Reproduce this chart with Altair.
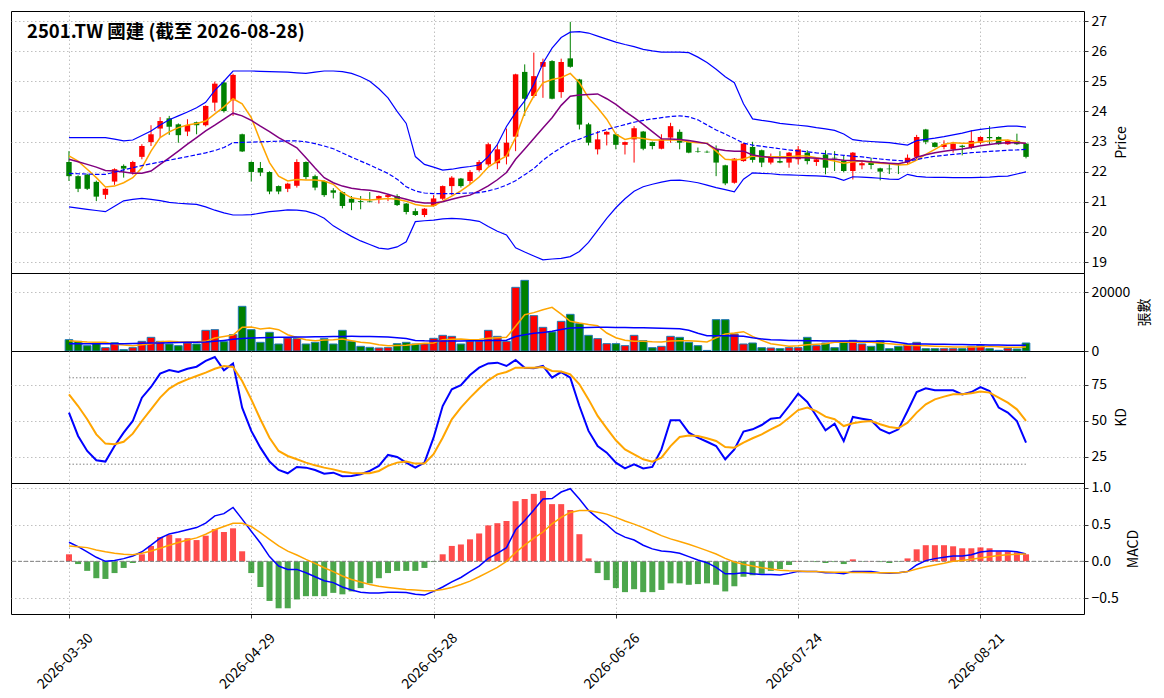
import altair as alt
import pandas as pd

FONT = "Noto Sans CJK TC"
title_text = "2501.TW 國建 (截至 2026-08-28)"
tick_pos = [0, 20, 40, 60, 80, 100]
tick_labels = ["2026-03-30", "2026-04-29", "2026-05-28", "2026-06-26", "2026-07-24", "2026-08-21"]

open_ = [22.32, 21.85, 21.90, 21.66, 21.23, 21.67, 22.19, 21.97, 22.49, 22.98,
         23.43, 23.77, 23.57, 23.33, 23.64, 23.54, 24.29, 24.96, 24.37, 23.24,
         22.32, 22.12, 21.99, 21.52, 21.43, 21.53, 22.32, 21.85, 21.69, 21.38,
         21.32, 21.10, 21.02, 21.01, 21.10, 21.16, 21.19, 20.94, 20.69, 20.56,
         20.86, 21.10, 21.52, 21.77, 21.69, 22.05, 22.24, 22.28, 22.50, 23.16,
         25.31, 24.51, 25.48, 25.67, 24.64, 25.76, 25.06, 23.57, 22.74, 23.23,
         23.24, 22.89, 23.07, 23.33, 22.98, 22.76, 23.13, 23.32, 22.98, 22.67,
         22.66, 22.74, 22.21, 21.63, 22.35, 22.82, 22.71, 22.30, 22.35, 22.30,
         22.41, 22.63, 22.32, 22.57, 22.46, 22.37, 22.02, 22.21, 22.30, 22.11,
         22.10, 22.24, 22.30, 22.49, 23.40, 22.96, 22.82, 22.74, 22.86, 22.79,
         22.96, 23.15, 23.15, 22.91, 23.02, 22.93]
high = [22.68, 21.88, 21.93, 21.70, 21.45, 22.11, 22.24, 22.36, 22.91, 23.54,
        23.81, 23.85, 23.60, 23.74, 23.66, 24.20, 24.99, 25.03, 25.25, 23.26,
        22.34, 22.32, 22.01, 21.54, 21.63, 22.41, 22.34, 21.90, 21.71, 21.45,
        21.34, 21.19, 21.19, 21.32, 21.21, 21.24, 21.25, 20.96, 20.78, 20.79,
        21.22, 21.54, 21.85, 21.79, 22.05, 22.38, 22.96, 22.91, 23.43, 25.25,
        25.56, 25.95, 25.75, 25.70, 25.75, 26.97, 25.08, 23.62, 23.35, 23.34,
        23.26, 23.00, 23.51, 23.35, 23.00, 23.24, 23.62, 23.40, 23.00, 22.80,
        22.70, 22.87, 22.23, 22.45, 22.95, 22.99, 22.73, 22.60, 22.68, 22.65,
        22.85, 22.71, 22.43, 22.71, 22.68, 22.54, 22.65, 22.38, 22.46, 22.13,
        22.25, 22.27, 22.57, 23.22, 23.42, 22.98, 23.04, 22.99, 22.89, 23.37,
        23.17, 23.51, 23.17, 23.06, 23.26, 22.95]
low = [21.69, 21.32, 21.39, 21.02, 21.09, 21.56, 21.80, 21.90, 22.41, 22.85,
       23.13, 23.22, 22.96, 23.18, 23.24, 23.50, 24.01, 23.96, 23.85, 22.65,
       21.67, 21.85, 21.25, 21.25, 21.32, 21.47, 21.74, 21.38, 21.16, 21.11,
       20.78, 20.72, 20.75, 20.98, 20.94, 21.02, 20.86, 20.58, 20.53, 20.49,
       20.84, 21.06, 21.22, 21.47, 21.58, 22.00, 22.19, 22.08, 22.24, 22.68,
       23.85, 24.45, 24.45, 24.40, 24.45, 25.45, 23.40, 22.87, 22.57, 22.87,
       22.74, 22.57, 22.30, 22.71, 22.74, 22.74, 22.96, 22.74, 22.61, 22.63,
       22.62, 21.85, 21.55, 21.60, 22.33, 22.30, 22.15, 22.24, 22.28, 22.13,
       22.24, 22.24, 22.19, 21.91, 22.02, 21.98, 21.74, 22.08, 22.08, 21.71,
       21.92, 21.92, 22.24, 22.41, 22.91, 22.80, 22.74, 22.63, 22.54, 22.74,
       22.91, 22.91, 22.89, 22.89, 22.89, 22.44]
close = [21.85, 21.43, 21.43, 21.17, 21.43, 22.08, 22.10, 22.32, 22.85, 23.24,
         23.68, 23.49, 23.21, 23.55, 23.54, 24.18, 24.92, 24.01, 25.21, 22.67,
         21.99, 21.97, 21.34, 21.34, 21.60, 22.32, 21.82, 21.47, 21.22, 21.30,
         20.86, 20.97, 20.99, 20.99, 21.19, 21.22, 20.89, 20.66, 20.56, 20.77,
         21.11, 21.52, 21.80, 21.52, 21.99, 22.32, 22.91, 22.74, 22.96, 25.23,
         24.42, 25.17, 25.64, 24.42, 25.64, 25.48, 23.56, 22.96, 23.07, 23.32,
         22.89, 22.98, 23.44, 22.76, 22.85, 23.07, 23.51, 22.96, 22.63, 22.65,
         22.64, 22.30, 21.61, 22.43, 22.93, 22.39, 22.30, 22.46, 22.30, 22.63,
         22.74, 22.35, 22.41, 22.13, 22.44, 22.02, 22.63, 22.28, 22.22, 22.00,
         22.08, 22.22, 22.46, 23.15, 22.99, 22.82, 22.91, 22.93, 22.82, 23.02,
         23.15, 23.11, 22.91, 23.04, 22.91, 22.49]

ma5 = [22.52, 22.35, 22.08, 21.80, 21.49, 21.52, 21.63, 21.80, 22.13, 22.68,
       23.13, 23.32, 23.46, 23.55, 23.60, 23.68, 23.92, 24.15, 24.42, 24.25,
       23.79, 23.02, 22.30, 21.85, 21.69, 21.74, 21.72, 21.72, 21.69, 21.58,
       21.30, 21.13, 21.08, 21.06, 21.08, 21.11, 21.08, 21.02, 20.91, 20.86,
       20.86, 21.02, 21.19, 21.36, 21.58, 21.82, 22.15, 22.35, 22.52, 23.13,
       23.96, 24.51, 24.95, 25.06, 25.12, 25.26, 24.95, 24.45, 24.12, 23.74,
       23.24, 23.07, 23.13, 23.10, 23.05, 23.05, 23.05, 23.05, 22.98, 22.96,
       22.94, 22.68, 22.41, 22.39, 22.42, 22.52, 22.49, 22.49, 22.49, 22.49,
       22.52, 22.52, 22.46, 22.41, 22.35, 22.28, 22.33, 22.35, 22.30, 22.28,
       22.26, 22.22, 22.24, 22.38, 22.57, 22.74, 22.91, 22.96, 22.94, 22.94,
       22.99, 23.02, 23.04, 23.05, 22.99, 22.93]
ma10 = [22.41, 22.33, 22.24, 22.15, 22.04, 22.02, 21.99, 21.95, 21.95, 22.02,
        22.24, 22.46, 22.68, 22.91, 23.13, 23.35, 23.54, 23.74, 23.94, 23.85,
        23.70, 23.51, 23.33, 23.13, 22.96, 22.79, 22.46, 22.12, 21.80, 21.63,
        21.52, 21.45, 21.41, 21.38, 21.33, 21.25, 21.16, 21.08, 21.00, 20.96,
        20.96, 21.00, 21.08, 21.16, 21.22, 21.36, 21.53, 21.73, 21.97, 22.41,
        22.75, 23.10, 23.45, 23.79, 24.20, 24.50, 24.54, 24.56, 24.58, 24.42,
        24.23, 24.00, 23.79, 23.57, 23.33, 23.09, 23.08, 23.07, 23.03, 22.98,
        22.93, 22.75, 22.70, 22.68, 22.68, 22.55, 22.50, 22.47, 22.46, 22.46,
        22.46, 22.46, 22.44, 22.42, 22.41, 22.38, 22.37, 22.35, 22.33, 22.30,
        22.28, 22.26, 22.33, 22.48, 22.56, 22.63, 22.68, 22.72, 22.75, 22.80,
        22.86, 22.90, 22.94, 22.96, 22.96, 22.94]
bb_mid = [21.94, 21.93, 21.92, 21.91, 21.91, 21.98, 22.06, 22.13, 22.20, 22.26,
          22.32, 22.38, 22.44, 22.50, 22.56, 22.62, 22.70, 22.80, 22.96, 22.97,
          22.98, 22.99, 23.00, 23.01, 23.02, 23.02, 22.99, 22.93, 22.85, 22.76,
          22.62, 22.48, 22.35, 22.22, 22.08, 21.94, 21.75, 21.50, 21.36, 21.29,
          21.27, 21.27, 21.27, 21.28, 21.29, 21.30, 21.36, 21.44, 21.55, 21.70,
          21.90, 22.10, 22.38, 22.60, 22.80, 22.98, 23.08, 23.20, 23.30, 23.40,
          23.48, 23.56, 23.64, 23.70, 23.75, 23.79, 23.83, 23.85, 23.82, 23.72,
          23.55, 23.38, 23.25, 23.10, 22.95, 22.88, 22.84, 22.80, 22.76, 22.72,
          22.69, 22.66, 22.62, 22.60, 22.57, 22.54, 22.51, 22.49, 22.45, 22.42,
          22.39, 22.37, 22.35, 22.40, 22.46, 22.51, 22.54, 22.57, 22.60, 22.63,
          22.65, 22.67, 22.69, 22.71, 22.72, 22.74]
bb_up = [23.13, 23.13, 23.13, 23.13, 23.13, 23.08, 23.02, 23.05, 23.20, 23.35,
         23.55, 23.72, 23.85, 23.98, 24.12, 24.30, 24.70, 25.00, 25.34, 25.34,
         25.34, 25.33, 25.32, 25.31, 25.30, 25.28, 25.26, 25.30, 25.34, 25.34,
         25.32, 25.26, 25.15, 25.00, 24.75, 24.45, 24.00, 23.60, 22.50, 22.24,
         22.15, 22.05, 22.08, 22.13, 22.17, 22.22, 22.50, 22.90, 23.50, 23.96,
         24.35, 24.90, 25.60, 26.10, 26.45, 26.63, 26.65, 26.60, 26.50, 26.40,
         26.30, 26.22, 26.15, 26.06, 26.01, 25.97, 25.97, 25.97, 25.95, 25.80,
         25.62, 25.40, 25.15, 24.95, 24.25, 23.75, 23.70, 23.66, 23.60, 23.57,
         23.54, 23.51, 23.46, 23.42, 23.37, 23.25, 23.06, 23.02, 23.00, 22.98,
         22.96, 22.92, 22.88, 23.03, 23.07, 23.11, 23.16, 23.22, 23.28, 23.35,
         23.40, 23.44, 23.48, 23.51, 23.51, 23.48]
bb_lo = [20.83, 20.79, 20.75, 20.71, 20.67, 20.85, 21.03, 21.08, 21.11, 21.08,
         21.04, 20.98, 20.95, 20.93, 20.91, 20.83, 20.72, 20.63, 20.56, 20.56,
         20.57, 20.62, 20.67, 20.70, 20.73, 20.72, 20.69, 20.60, 20.45, 20.20,
         20.02, 19.85, 19.70, 19.58, 19.46, 19.43, 19.50, 19.67, 20.34, 20.37,
         20.39, 20.43, 20.45, 20.43, 20.40, 20.35, 20.18, 20.02, 19.90, 19.47,
         19.33, 19.20, 19.07, 19.10, 19.12, 19.18, 19.35, 19.65, 20.05, 20.45,
         20.80, 21.10, 21.35, 21.50, 21.58, 21.65, 21.71, 21.72, 21.68, 21.63,
         21.55, 21.47, 21.40, 21.33, 21.75, 21.96, 21.94, 21.93, 21.90, 21.89,
         21.88, 21.87, 21.86, 21.84, 21.81, 21.71, 21.83, 21.82, 21.80, 21.78,
         21.75, 21.74, 21.91, 21.84, 21.82, 21.81, 21.81, 21.80, 21.80, 21.80,
         21.81, 21.82, 21.84, 21.85, 21.92, 21.99]

volume = [3842, 3277, 1808, 2712, 1130, 2825, 452, 1130, 3277, 4633,
          3277, 2373, 1808, 2712, 2373, 7006, 7232, 3164, 5537, 15142,
          7232, 2938, 6328, 2373, 4407, 4181, 2373, 2938, 4181, 2373,
          7006, 3277, 1582, 1243, 1017, 1130, 2486, 2938, 2373, 2373,
          4294, 5311, 4972, 2373, 3277, 3277, 7006, 4972, 3277, 21583,
          23956, 11978, 8023, 6441, 10057, 12430, 9266, 5311, 4181, 2486,
          2486, 1808, 5311, 3503, 1130, 1582, 4972, 4633, 2938, 1808,
          200, 10622, 10622, 5763, 2373, 2712, 1130, 1017, 791, 1130,
          1130, 4633, 1808, 2712, 1130, 3277, 3616, 2373, 1582, 3503,
          791, 1582, 2147, 2938, 791, 791, 791, 791, 791, 1582,
          1808, 791, 226, 904, 678, 2712]
vol_ma5 = [3500, 3250, 3050, 3000, 2938, 2300, 2000, 1808, 2100, 2486,
           3100, 3277, 3100, 3051, 3100, 3277, 4407, 4900, 5400, 8023,
           8136, 7458, 7797, 7232, 5500, 4600, 3842, 3500, 3700, 3842,
           4068, 3500, 3000, 2712, 2100, 1808, 1850, 1921, 2250, 2600,
           2712, 3842, 4000, 4068, 3842, 3900, 4294, 4500, 4633, 8362,
           12300, 13000, 14000, 14803, 12500, 10057, 9492, 9000, 8588, 6102,
           4500, 3616, 3300, 3277, 3100, 3051, 3400, 3503, 3503, 3300,
           3051, 4500, 5763, 6100, 6554, 4972, 3600, 2486, 2000, 1582,
           1800, 2147, 2300, 2486, 2938, 2950, 3051, 3000, 2938, 2700,
           2486, 2200, 1921, 1850, 1808, 1650, 1500, 1356, 1356, 1356,
           1450, 1582, 1400, 1243, 1300, 1356]
vol_ma20 = [2486, 2486, 2486, 2486, 2486, 2486, 2486, 2550, 2600, 2700,
            2750, 2800, 2900, 2950, 3000, 3051, 3300, 3600, 3950, 4200,
            4407, 4500, 4600, 4650, 4700, 4720, 4746, 4800, 4850, 4900,
            4950, 4972, 4950, 4900, 4800, 4746, 4500, 4200, 3600, 3450,
            3400, 3390, 3390, 3400, 3450, 3500, 3550, 3600, 3650, 4900,
            5500, 6000, 6300, 6667, 7300, 7797, 7900, 8000, 8023, 8023,
            8000, 7950, 7910, 7850, 7800, 7700, 7650, 7571, 7000, 6000,
            5198, 5198, 5198, 5100, 4972, 4500, 4100, 3842, 3700, 3600,
            3550, 3503, 3450, 3420, 3400, 3380, 3350, 3330, 3300, 3290,
            3277, 2900, 2486, 2400, 2350, 2300, 2250, 2200, 2170, 2147,
            2100, 2050, 2000, 1960, 1940, 1921]

k_line = [55.8, 39.6, 29.2, 22.7, 21.8, 32.6, 41.9, 50.0, 66.2, 73.6,
          82.9, 85.4, 84.0, 86.3, 87.7, 91.7, 94.4, 85.2, 90.0, 59.3,
          43.1, 31.5, 21.8, 16.0, 13.7, 18.1, 17.6, 16.0, 13.4, 14.1,
          11.6, 11.8, 13.0, 15.3, 18.8, 26.4, 25.0, 21.1, 17.6, 21.1,
          38.4, 60.4, 72.0, 74.8, 81.9, 87.0, 90.0, 90.5, 88.2, 92.4,
          87.0, 86.6, 88.2, 80.1, 84.0, 80.1, 60.4, 43.1, 32.6, 28.0,
          21.1, 17.1, 19.9, 17.1, 18.1, 30.3, 50.5, 50.5, 41.9, 38.4,
          35.6, 32.6, 23.4, 30.3, 42.6, 44.2, 47.2, 51.6, 52.3, 60.4,
          69.0, 63.2, 53.5, 43.5, 48.1, 36.1, 52.8, 51.6, 50.5, 44.2,
          41.4, 44.2, 56.9, 70.1, 72.7, 71.3, 71.3, 71.3, 68.5, 70.1,
          73.6, 70.8, 59.3, 55.8, 50.0, 35.0]
d_line = [68.5, 60.4, 51.2, 40.7, 34.3, 33.8, 35.6, 41.2, 50.0, 58.1,
          66.2, 72.5, 76.2, 78.9, 81.2, 83.6, 86.3, 88.2, 87.5, 77.8,
          65.0, 51.2, 38.4, 29.2, 25.7, 23.4, 21.1, 19.2, 17.6, 16.4,
          14.8, 13.9, 13.7, 13.7, 15.3, 18.8, 21.1, 21.8, 20.4, 20.4,
          26.9, 38.4, 51.2, 59.3, 66.2, 72.5, 78.2, 82.4, 84.0, 87.0,
          87.0, 87.0, 87.5, 84.7, 84.3, 82.4, 75.5, 65.0, 53.5, 44.9,
          36.6, 30.3, 26.9, 23.4, 21.8, 24.5, 32.6, 38.9, 40.0, 39.6,
          38.0, 36.1, 31.9, 31.5, 35.0, 38.0, 40.7, 44.2, 47.2, 52.3,
          57.6, 59.3, 56.9, 53.0, 51.2, 46.5, 48.4, 49.5, 50.0, 47.7,
          45.8, 44.9, 48.8, 55.8, 61.6, 65.0, 66.9, 68.5, 68.5, 69.2,
          70.4, 69.7, 66.2, 62.7, 58.1, 50.0]

dif = [0.26, 0.20, 0.13, 0.055, 0.0, 0.01, 0.037, 0.073, 0.13, 0.22,
       0.315, 0.374, 0.40, 0.43, 0.46, 0.52, 0.62, 0.65, 0.735, 0.575,
       0.41, 0.25, 0.064, -0.064, -0.11, -0.11, -0.155, -0.21, -0.265, -0.29,
       -0.35, -0.39, -0.42, -0.43, -0.43, -0.42, -0.42, -0.425, -0.45, -0.46,
       -0.41, -0.35, -0.28, -0.22, -0.14, -0.064, 0.04, 0.11, 0.187, 0.43,
       0.557, 0.70, 0.85, 0.855, 0.945, 0.99, 0.85, 0.694, 0.59, 0.50,
       0.39, 0.33, 0.29, 0.22, 0.17, 0.14, 0.13, 0.11, 0.064, 0.018,
       -0.018, -0.082, -0.17, -0.17, -0.155, -0.17, -0.18, -0.18, -0.187, -0.164,
       -0.137, -0.14, -0.14, -0.155, -0.155, -0.17, -0.14, -0.137, -0.14, -0.155,
       -0.164, -0.155, -0.14, -0.05, 0.01, 0.037, 0.055, 0.073, 0.073, 0.09,
       0.128, 0.14, 0.14, 0.14, 0.13, 0.10]
dea = [0.21, 0.20, 0.187, 0.155, 0.13, 0.11, 0.096, 0.09, 0.11, 0.14,
       0.178, 0.22, 0.256, 0.29, 0.32, 0.37, 0.43, 0.475, 0.52, 0.52,
       0.475, 0.39, 0.30, 0.21, 0.14, 0.087, 0.027, -0.027, -0.087, -0.14,
       -0.20, -0.247, -0.283, -0.315, -0.34, -0.356, -0.37, -0.384, -0.39, -0.40,
       -0.40, -0.384, -0.356, -0.315, -0.27, -0.21, -0.146, -0.082, 0.0, 0.12,
       0.22, 0.315, 0.40, 0.51, 0.60, 0.667, 0.694, 0.694, 0.67, 0.644,
       0.60, 0.55, 0.507, 0.46, 0.406, 0.35, 0.306, 0.27, 0.233, 0.19,
       0.146, 0.10, 0.04, -0.01, -0.04, -0.064, -0.087, -0.105, -0.12, -0.128,
       -0.132, -0.137, -0.14, -0.145, -0.148, -0.15, -0.152, -0.153, -0.154, -0.155,
       -0.155, -0.155, -0.14, -0.105, -0.073, -0.05, -0.027, 0.0, 0.01, 0.027,
       0.046, 0.064, 0.08, 0.09, 0.096, 0.10]
hist = [0.096, -0.037, -0.13, -0.23, -0.24, -0.16, -0.09, -0.023, 0.096, 0.21,
        0.33, 0.36, 0.315, 0.315, 0.29, 0.35, 0.44, 0.40, 0.45, 0.137,
        -0.16, -0.35, -0.54, -0.64, -0.64, -0.52, -0.475, -0.475, -0.475, -0.43,
        -0.45, -0.41, -0.365, -0.30, -0.23, -0.16, -0.13, -0.13, -0.13, -0.09,
        -0.01, 0.096, 0.21, 0.23, 0.30, 0.38, 0.49, 0.52, 0.55, 0.82,
        0.85, 0.92, 0.96, 0.78, 0.78, 0.70, 0.37, 0.04, -0.16, -0.256,
        -0.365, -0.42, -0.38, -0.42, -0.42, -0.39, -0.30, -0.30, -0.32, -0.31,
        -0.30, -0.32, -0.41, -0.34, -0.21, -0.19, -0.17, -0.13, -0.105, -0.05,
        0.004, -0.004, -0.01, -0.023, -0.01, -0.037, 0.027, -0.005, 0.003, -0.01,
        -0.023, -0.005, 0.04, 0.164, 0.22, 0.22, 0.22, 0.205, 0.178, 0.178,
        0.19, 0.178, 0.137, 0.137, 0.123, 0.096]

n = len(close)
df = pd.DataFrame({
    "i": list(range(n)), "open": open_, "high": high, "low": low, "close": close,
    "ma5": ma5, "ma10": ma10, "mid": bb_mid, "up": bb_up, "lo": bb_lo,
    "vol": volume, "vma5": vol_ma5, "vma20": vol_ma20,
    "k": k_line, "d": d_line, "dif": dif, "dea": dea, "hist": hist,
})
df["b0"] = df["i"] - 0.30
df["b1"] = df["i"] + 0.30
df["v0"] = df["i"] - 0.42
df["v1"] = df["i"] + 0.42
df["h0"] = df["i"] - 0.33
df["h1"] = df["i"] + 0.33
df["zero"] = 0.0

W = 1073
xscale = alt.Scale(domain=[-6.36, 111.36], nice=False, zero=False)
label_expr = " : ".join(f"datum.value == {p} ? '{l}'" for p, l in zip(tick_pos, tick_labels)) + " : ''"
x_hidden = alt.Axis(values=tick_pos, labels=False, ticks=False, domain=False, grid=True, title=None)
x_bottom = alt.Axis(values=tick_pos, labelExpr=label_expr, labelAngle=315, labelAlign="center",
                    labelBaseline="middle", labelPadding=43, labelOffset=-4, labelOverlap=False,
                    ticks=True, tickSize=4, domain=False, grid=True, title=None)

updown = alt.condition("datum.close >= datum.open", alt.value("red"), alt.value("green"))
base = alt.Chart(df)


def yaxis(values, fmt, title):
    return alt.Axis(orient="right", values=values, format=fmt, title=title,
                    titleAngle=270, titleBaseline="top", titleAlign="center")


# ---- price panel
p_scale = alt.Scale(domain=[18.635, 27.332], nice=False, zero=False)
p_axis = yaxis(list(range(19, 28)), "d", "Price")


def Xi(ax):
    return alt.X("i:Q", scale=xscale, axis=ax)


def py(field):
    return alt.Y(f"{field}:Q", scale=p_scale, axis=p_axis)


wick = base.mark_rule(strokeWidth=1).encode(x=Xi(x_hidden), y=py("low"), y2="high:Q", color=updown)
body = base.mark_bar().encode(x=alt.X("b0:Q", scale=xscale, axis=x_hidden), x2="b1:Q",
                              y=py("open"), y2="close:Q", color=updown)
l_ma5 = base.mark_line(color="orange", strokeWidth=1.5).encode(x=Xi(x_hidden), y=py("ma5"))
l_ma10 = base.mark_line(color="purple", strokeWidth=1.5).encode(x=Xi(x_hidden), y=py("ma10"))
l_mid = base.mark_line(color="blue", strokeWidth=1.2, strokeDash=[4.5, 2]).encode(x=Xi(x_hidden), y=py("mid"))
l_up = base.mark_line(color="blue", strokeWidth=1.2).encode(x=Xi(x_hidden), y=py("up"))
l_lo = base.mark_line(color="blue", strokeWidth=1.2).encode(x=Xi(x_hidden), y=py("lo"))
ttl = alt.Chart(pd.DataFrame({"t": [title_text]})).mark_text(
    align="left", baseline="middle", font=FONT, fontSize=18.5, fontWeight="bold", color="black"
).encode(x=alt.value(16), y=alt.value(21), text="t:N")
price = alt.layer(wick, body, l_ma5, l_ma10, l_mid, l_up, l_lo, ttl).properties(width=W, height=262)

# ---- volume panel
v_scale = alt.Scale(domain=[0, 26441], nice=False, zero=True)
v_axis = yaxis([0, 20000], "d", "張數")


def vy(field):
    return alt.Y(f"{field}:Q", scale=v_scale, axis=v_axis)


vbar = base.mark_bar(stroke="#1f77b4", strokeWidth=1).encode(
    x=alt.X("v0:Q", scale=xscale, axis=x_hidden), x2="v1:Q", y=vy("vol"), y2="zero:Q", color=updown)
v5 = base.mark_line(color="orange", strokeWidth=1.5).encode(x=Xi(x_hidden), y=vy("vma5"))
v20 = base.mark_line(color="blue", strokeWidth=1.5).encode(x=Xi(x_hidden), y=vy("vma20"))
volp = alt.layer(vbar, v5, v20).properties(width=W, height=78)

# ---- KD panel
k_scale = alt.Scale(domain=[6.94, 98.6], nice=False, zero=False)
k_axis = yaxis([25, 50, 75], "d", "KD")


def ky(field):
    return alt.Y(f"{field}:Q", scale=k_scale, axis=k_axis)


ref = pd.DataFrame({"x0": [0, 0], "x1": [n - 1, n - 1], "lvl": [80, 20]})
kref = alt.Chart(ref).mark_rule(color="#808080", strokeWidth=1, strokeDash=[1.5, 2]).encode(
    x=alt.X("x0:Q", scale=xscale, axis=x_hidden), x2="x1:Q", y=ky("lvl"))
kl = base.mark_line(color="blue", strokeWidth=2).encode(x=Xi(x_hidden), y=ky("k"))
dl = base.mark_line(color="orange", strokeWidth=2).encode(x=Xi(x_hidden), y=ky("d"))
kdp = alt.layer(kref, kl, dl).properties(width=W, height=132)

# ---- MACD panel
m_scale = alt.Scale(domain=[-0.718, 1.068], nice=False, zero=False)
m_axis = yaxis([-0.5, 0.0, 0.5, 1.0], ".1f", "MACD")


def my(field):
    return alt.Y(f"{field}:Q", scale=m_scale, axis=m_axis)


hbar = base.mark_bar(opacity=0.7).encode(
    x=alt.X("h0:Q", scale=xscale, axis=x_bottom), x2="h1:Q", y=my("hist"), y2="zero:Q",
    color=alt.condition("datum.hist >= 0", alt.value("red"), alt.value("green")))
zline = alt.Chart(pd.DataFrame({"z": [0.0]})).mark_rule(color="gray", strokeWidth=1, strokeDash=[4, 2]).encode(
    y=my("z"))
difl = base.mark_line(color="blue", strokeWidth=1.5).encode(x=Xi(x_bottom), y=my("dif"))
deal = base.mark_line(color="orange", strokeWidth=1.5).encode(x=Xi(x_bottom), y=my("dea"))
macdp = alt.layer(hbar, zline, difl, deal).properties(width=W, height=131)

chart = alt.vconcat(price, volp, kdp, macdp, spacing=0, bounds="flush").properties(
    padding={"left": 2, "top": 2, "right": 2, "bottom": 2}
).configure_view(stroke="black", strokeWidth=1).configure_axis(
    labelFont=FONT, titleFont=FONT, labelFontSize=14, titleFontSize=14, labelColor="black",
    titleColor="black", tickColor="black", tickSize=4, tickWidth=0.8, labelPadding=3,
    titleFontWeight="normal", titlePadding=8,
    gridColor="#b0b0b0", gridDash=[1.5, 2.5], gridWidth=0.8, domain=False
)

chart.save("out.html", embed_options={"renderer": "svg", "actions": False})
